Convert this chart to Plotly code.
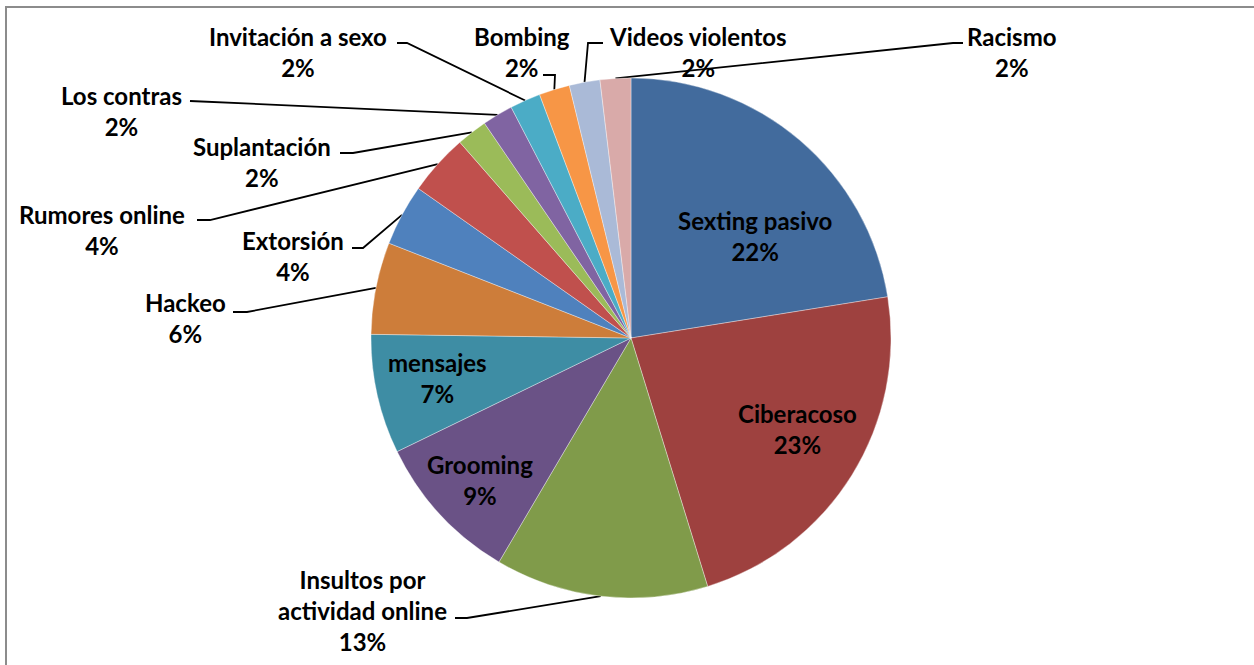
import math
import plotly.graph_objects as go

# ---------------- data ----------------
categories = ["Sexting pasivo", "Ciberacoso", "Insultos por actividad online", "Grooming",
              "mensajes", "Hackeo", "Extorsión", "Rumores online", "Suplantación",
              "Los contras", "Invitación a sexo", "Bombing", "Videos violentos", "Racismo"]
values = [22.4, 22.7, 13.2, 9.3, 7.4, 5.7, 3.8, 3.8, 1.9, 1.9, 1.9, 1.9, 1.9, 1.9]
label_text = ["Sexting pasivo", "Ciberacoso", "Insultos por<br>actividad online", "Grooming",
              "mensajes", "Hackeo", "Extorsión", "Rumores online", "Suplantación",
              "Los contras", "Invitación a sexo", "Bombing", "Videos violentos", "Racismo"]

# ---------------- style / layout ----------------
colors = ["#426B9D", "#9E413F", "#809B4A", "#6A5286", "#3E8DA4", "#CD7D3A",
          "#4F81BD", "#C0504D", "#9BBB59", "#8064A2", "#4BACC6", "#F79646",
          "#AABAD7", "#D9AAA9"]
W, H = 1254, 665
CX, CY, R = 631, 338, 260
FONT = dict(family="Lato, Calibri, sans-serif", size=24, color="#000000", weight="bold")

# label block centre, plus leader-line (elbow, anchor) for outside labels
label_pos = {
    "Sexting pasivo": (755, 236, None, None),
    "Ciberacoso": (797, 429, None, None),
    "Insultos por actividad online": (362, 610, (467, 618), (455, 618)),
    "Grooming": (480, 480, None, None),
    "mensajes": (437, 378, None, None),
    "Hackeo": (185, 318, (247, 312), (233, 312)),
    "Extorsión": (293, 256, (363, 248), (352, 248)),
    "Rumores online": (102, 230, (210, 220), (197, 220)),
    "Suplantación": (262, 162, (353, 153), (340, 153)),
    "Los contras": (121, 111, (200, 101), (190, 101)),
    "Invitación a sexo": (298, 52, (407, 43), (397, 43)),
    "Bombing": (522, 52, (555, 75), (543, 75)),
    "Videos violentos": (698, 52, (588, 43), (603, 43)),
    "Racismo": (1012, 52, (953, 43), (963, 43)),
}

fig = go.Figure()

# pie domain so that centre/radius land at CX, CY, R in pixels
fig.add_trace(go.Pie(
    labels=categories, values=values, sort=False, direction="clockwise", rotation=0,
    marker=dict(colors=colors, line=dict(color="rgba(255,255,255,0.6)", width=0.6)),
    textinfo="none", hoverinfo="label+percent", showlegend=False,
    domain=dict(x=[(CX - R) / W, (CX + R) / W], y=[1 - (CY + R) / H, 1 - (CY - R) / H]),
))

total = sum(values)
cum = 0.0
lx, ly = [], []
annotations = []
for cat, v, txt in zip(categories, values, label_text):
    mid = (cum + v / 2) / total * 2 * math.pi
    cum += v
    pct = round(v / total * 100)
    tx, ty, elbow, anchor = label_pos[cat]
    if elbow is not None:
        ax_, ay_ = CX + R * math.sin(mid), CY - R * math.cos(mid)
        lx += [ax_, elbow[0], anchor[0], None]
        ly += [ay_, elbow[1], anchor[1], None]
    annotations.append(dict(
        x=tx, y=ty, xref="x", yref="y", text=f"{txt}<br>{pct}%", showarrow=False,
        xanchor="center", yanchor="middle", align="center", font=FONT,
    ))

fig.add_trace(go.Scatter(x=lx, y=ly, mode="lines", line=dict(color="#000000", width=1.8),
                         hoverinfo="skip", showlegend=False))

fig.update_layout(
    width=W, height=H, margin=dict(l=0, r=0, t=0, b=0),
    paper_bgcolor="white", plot_bgcolor="rgba(0,0,0,0)",
    xaxis=dict(range=[0, W], visible=False, fixedrange=True),
    yaxis=dict(range=[H, 0], visible=False, fixedrange=True),
    annotations=annotations,
    shapes=[dict(type="rect", xref="x", yref="y", x0=6, y0=7, x1=W + 20, y1=H + 20,
                 line=dict(color="#8C8C8C", width=2), layer="below")],
)

fig.write_html("out.html", config={"displayModeBar": False},
               post_script="document.body.style.margin='0';document.body.style.overflow='hidden';")
